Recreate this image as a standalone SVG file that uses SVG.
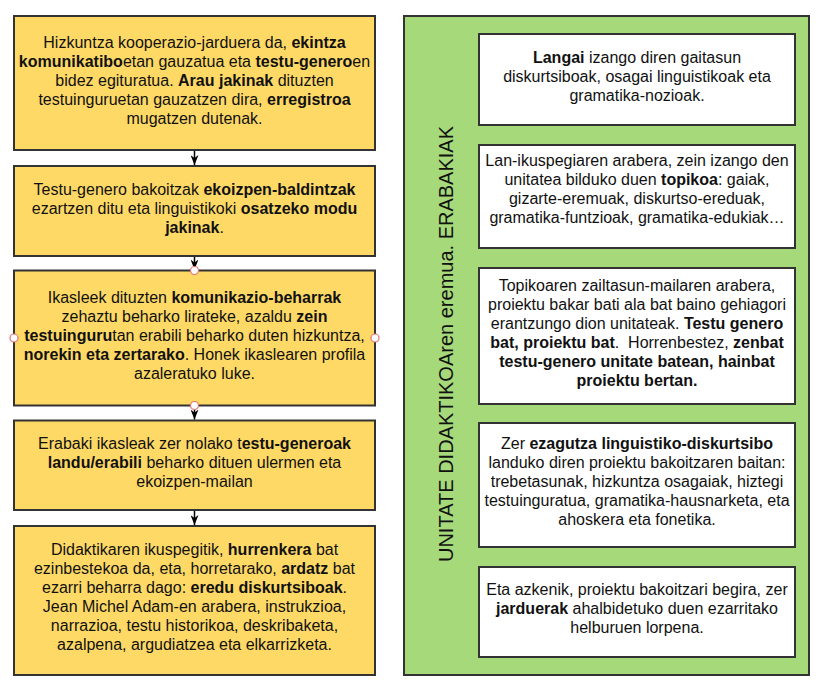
<svg xmlns="http://www.w3.org/2000/svg" width="823" height="688" viewBox="0 0 823 688">
<defs>
<style>
.y{fill:#FFD966;stroke:#333333;stroke-width:2}
.w{fill:#FFFFFF;stroke:#333333;stroke-width:2}
.g{fill:#A6D97A;stroke:#333333;stroke-width:2}
text{font-family:"Liberation Sans",Arial,sans-serif;font-size:16px;fill:#111111;text-anchor:middle}
.b{font-weight:bold}
.v{font-size:20px}
.c{stroke:#000000;stroke-width:1.5;fill:none}
.p{fill:#FFFFFF;stroke:#E57373;stroke-width:1.2}
</style>
<marker id="arr" viewBox="0 0 10 8" refX="10" refY="4" markerWidth="10" markerHeight="8" orient="auto" markerUnits="userSpaceOnUse">
<path d="M0,0 L10,4 L0,8 L3,4 z" fill="#000000"/>
</marker>
</defs>
<rect x="0" y="0" width="823" height="688" fill="#FFFFFF"/>

<g id="container">
<rect class="g" x="404" y="16" width="405" height="659"/>
<text class="v" transform="translate(452.5,344) rotate(-90)" x="0" y="0">UNITATE DIDAKTIKOAren eremua. ERABAKIAK</text>
</g>

<g id="node1">
<rect class="y" x="14" y="16" width="361" height="134"/>
<text x="194.5" y="47.5">Hizkuntza kooperazio-jarduera da, <tspan class="b">ekintza</tspan></text>
<text x="194.5" y="66.5"><tspan class="b">komunikatibo</tspan>etan gauzatua eta <tspan class="b">testu-genero</tspan>en</text>
<text x="194.5" y="85.5">bidez egituratua. <tspan class="b">Arau jakinak</tspan> dituzten</text>
<text x="194.5" y="104.5">testuinguruetan gauzatzen dira, <tspan class="b">erregistroa</tspan></text>
<text x="194.5" y="123.5">mugatzen dutenak.</text>
</g>

<g id="node2">
<rect class="y" x="14" y="166" width="361" height="90"/>
<text x="194.5" y="194.5">Testu-genero bakoitzak <tspan class="b">ekoizpen-baldintzak</tspan></text>
<text x="194.5" y="213.5">ezartzen ditu eta linguistikoki <tspan class="b">osatzeko modu</tspan></text>
<text x="194.5" y="232.5"><tspan class="b">jakinak</tspan>.</text>
</g>

<g id="node3">
<rect class="y" x="14" y="270.5" width="361" height="135"/>
<text x="194.5" y="302.5">Ikasleek dituzten <tspan class="b">komunikazio-beharrak</tspan></text>
<text x="194.5" y="321.5">zehaztu beharko lirateke, azaldu <tspan class="b">zein</tspan></text>
<text x="194.5" y="340.5"><tspan class="b">testuinguru</tspan>tan erabili beharko duten hizkuntza,</text>
<text x="194.5" y="359.5"><tspan class="b">norekin eta zertarako</tspan>. Honek ikaslearen profila</text>
<text x="194.5" y="378.5">azaleratuko luke.</text>
</g>

<g id="node4">
<rect class="y" x="14" y="420.5" width="361" height="89.5"/>
<text x="194.5" y="449">Erabaki ikasleak zer nolako t<tspan class="b">estu-generoak</tspan></text>
<text x="194.5" y="468"><tspan class="b">landu/erabili</tspan> beharko dituen ulermen eta</text>
<text x="194.5" y="487">ekoizpen-mailan</text>
</g>

<g id="node5">
<rect class="y" x="14" y="526" width="361" height="149"/>
<text x="194.5" y="555">Didaktikaren ikuspegitik, <tspan class="b">hurrenkera</tspan> bat</text>
<text x="194.5" y="574">ezinbestekoa da, eta, horretarako, <tspan class="b">ardatz</tspan> bat</text>
<text x="194.5" y="593">ezarri beharra dago: <tspan class="b">eredu diskurtsiboak</tspan>.</text>
<text x="194.5" y="612">Jean Michel Adam-en arabera, instrukzioa,</text>
<text x="194.5" y="631">narrazioa, testu historikoa, deskribaketa,</text>
<text x="194.5" y="650">azalpena, argudiatzea eta elkarrizketa.</text>
</g>

<g id="nodeA">
<rect class="w" x="479" y="34" width="316" height="91"/>
<text x="637" y="63">
<tspan class="b">Langai</tspan> izango diren gaitasun</text>
<text x="637" y="82">diskurtsiboak, osagai linguistikoak eta</text>
<text x="637" y="101">gramatika-nozioak.</text>
</g>

<g id="nodeB">
<rect class="w" x="479" y="145" width="316" height="103"/>
<text x="637" y="166">Lan-ikuspegiaren arabera, zein izango den</text>
<text x="637" y="185">unitatea bilduko duen <tspan class="b">topikoa</tspan>: gaiak,</text>
<text x="637" y="204">gizarte-eremuak, diskurtso-ereduak,</text>
<text x="637" y="223">gramatika-funtzioak, gramatika-edukiak…</text>
</g>

<g id="nodeC">
<rect class="w" x="479" y="268" width="316" height="136"/>
<text x="637" y="291">Topikoaren zailtasun-mailaren arabera,</text>
<text x="637" y="310">proiektu bakar bati ala bat baino gehiagori</text>
<text x="637" y="329">erantzungo dion unitateak. <tspan class="b">Testu genero</tspan></text>
<text x="637" y="348" xml:space="preserve"><tspan class="b">bat, proiektu bat</tspan>.  Horrenbestez, <tspan class="b">zenbat</tspan></text>
<text x="637" y="367" class="b">testu-genero unitate batean, hainbat</text>
<text x="637" y="386" class="b">proiektu bertan.</text>
</g>

<g id="nodeD">
<rect class="w" x="479" y="423" width="316" height="124"/>
<text x="637" y="448.5">Zer <tspan class="b">ezagutza linguistiko-diskurtsibo</tspan></text>
<text x="637" y="467.5">landuko diren proiektu bakoitzaren baitan:</text>
<text x="637" y="486.5">trebetasunak, hizkuntza osagaiak, hiztegi</text>
<text x="637" y="505.5">testuinguratua, gramatika-hausnarketa, eta</text>
<text x="637" y="524.5">ahoskera eta fonetika.</text>
</g>

<g id="nodeE">
<rect class="w" x="479" y="567" width="316" height="90"/>
<text x="637" y="595">Eta azkenik, proiektu bakoitzari begira, zer</text>
<text x="637" y="614"><tspan class="b">jarduerak</tspan> ahalbidetuko duen ezarritako</text>
<text x="637" y="633">helburuen lorpena.</text>
</g>

<g id="connectors">
<line class="c" x1="194.5" y1="151" x2="194.5" y2="165" marker-end="url(#arr)"/>
<line class="c" x1="194.5" y1="257" x2="194.5" y2="269.5" marker-end="url(#arr)"/>
<line class="c" x1="194.5" y1="406.5" x2="194.5" y2="419.5" marker-end="url(#arr)"/>
<line class="c" x1="194.5" y1="511" x2="194.5" y2="525" marker-end="url(#arr)"/>
</g>

<g id="points">
<circle class="p" cx="194.5" cy="270.5" r="4"/>
<circle class="p" cx="194.5" cy="405.5" r="4"/>
<circle class="p" cx="14" cy="338" r="4"/>
<circle class="p" cx="375" cy="338" r="4"/>
</g>
</svg>
